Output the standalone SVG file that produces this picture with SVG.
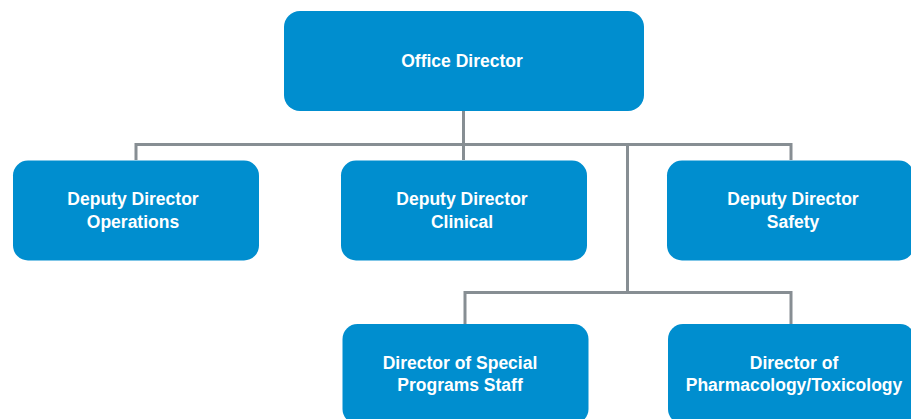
<svg xmlns="http://www.w3.org/2000/svg" width="911" height="419" viewBox="0 0 911 419">
<style>
.box{fill:#008ecf;}
.lbl{font-family:"Liberation Sans",Arial,sans-serif;font-weight:bold;font-size:17.5px;fill:#ffffff;text-anchor:middle;}
.conn{fill:none;stroke:#878e93;stroke-width:3;}
</style>
<rect width="911" height="419" fill="#ffffff"/>
<g id="connectors">
<path class="conn" d="M463.5 111 V160"/>
<path class="conn" d="M136 160 V144.5 H791 V160"/>
<path class="conn" d="M627.5 144.5 V292.5"/>
<path class="conn" d="M465 324 V292.5 H791 V324"/>
</g>
<g id="office-director">
<rect class="box" x="284" y="11" width="360" height="100" rx="16"/>
<text class="lbl" x="462" y="67">Office Director</text>
</g>
<g id="deputy-operations">
<rect class="box" x="13" y="160.5" width="246" height="100" rx="15"/>
<text class="lbl" x="133" y="205">Deputy Director</text>
<text class="lbl" x="133" y="227.5">Operations</text>
</g>
<g id="deputy-clinical">
<rect class="box" x="341" y="160.5" width="246" height="100" rx="15"/>
<text class="lbl" x="462" y="205">Deputy Director</text>
<text class="lbl" x="462" y="227.5">Clinical</text>
</g>
<g id="deputy-safety">
<rect class="box" x="667" y="160.5" width="247" height="100" rx="15"/>
<text class="lbl" x="793" y="205">Deputy Director</text>
<text class="lbl" x="793" y="227.5">Safety</text>
</g>
<g id="special-programs">
<rect class="box" x="342.5" y="324" width="246" height="100" rx="15"/>
<text class="lbl" x="460" y="369">Director of Special</text>
<text class="lbl" x="460" y="391">Programs Staff</text>
</g>
<g id="pharm-tox">
<rect class="box" x="668" y="324" width="247" height="100" rx="15"/>
<text class="lbl" x="794" y="368.5">Director of</text>
<text class="lbl" x="794" y="391">Pharmacology/Toxicology</text>
</g>
</svg>
